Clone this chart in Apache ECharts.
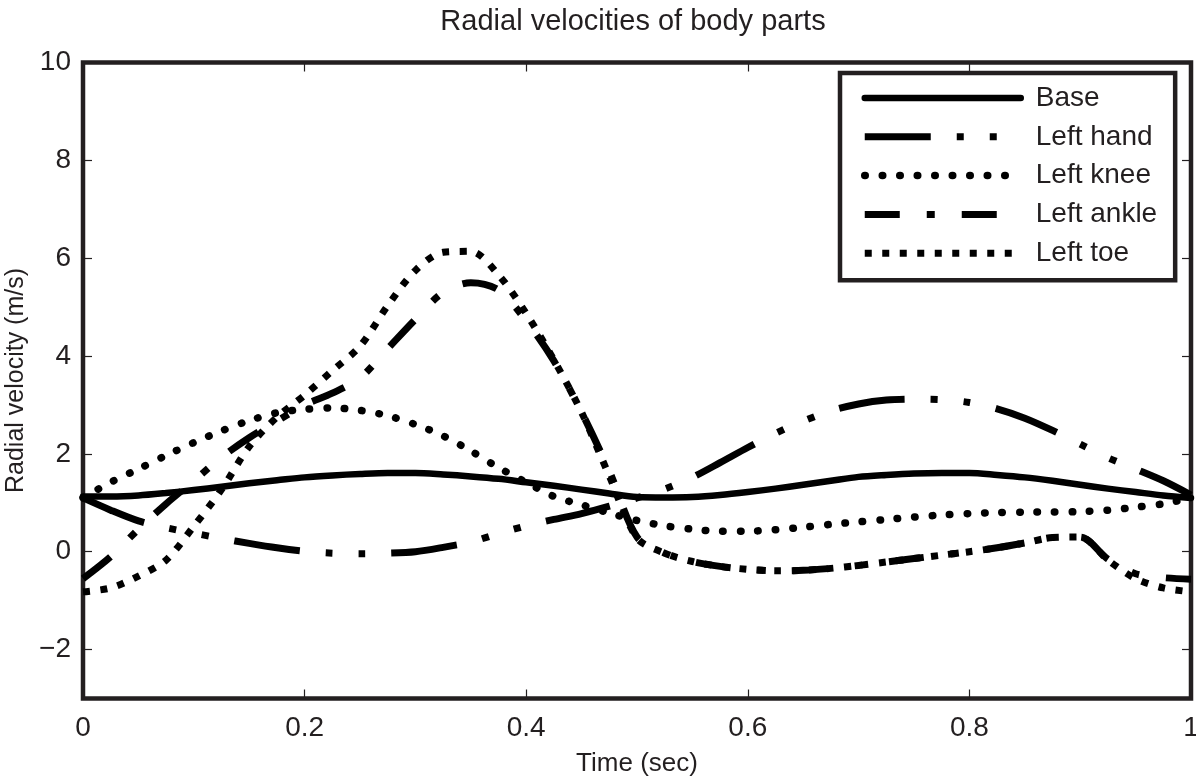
<!DOCTYPE html>
<html>
<head>
<meta charset="utf-8">
<script src="https://cdn.jsdelivr.net/npm/echarts@6/dist/echarts.min.js"></script>
<style>
  html, body { margin: 0; padding: 0; background: #fff; }
  #chart { width: 1196px; height: 782px; }
</style>
</head>
<body>
<div id="chart"></div>
<script>
// Sample times (s)
const time = [0, 0.025, 0.05, 0.075, 0.1, 0.125, 0.15, 0.175, 0.2, 0.225,
  0.25, 0.275, 0.3, 0.325, 0.35, 0.375, 0.4, 0.425, 0.45, 0.475,
  0.5, 0.525, 0.55, 0.575, 0.6, 0.625, 0.65, 0.675, 0.7, 0.725,
  0.75, 0.775, 0.8, 0.825, 0.85, 0.875, 0.9, 0.925, 0.95, 0.975, 1];

// Radial velocities (m/s) per body part
const base = [1.13, 1.13, 1.15, 1.2, 1.26, 1.33, 1.4, 1.46, 1.52, 1.56,
  1.59, 1.61, 1.61, 1.58, 1.54, 1.49, 1.42, 1.35, 1.27, 1.19,
  1.12, 1.11, 1.12, 1.16, 1.22, 1.29, 1.37, 1.45, 1.53, 1.57,
  1.6, 1.61, 1.61, 1.57, 1.52, 1.45, 1.37, 1.29, 1.22, 1.15, 1.1];
const leftHand = [1.1, 0.85, 0.63, 0.49, 0.38, 0.27, 0.17, 0.08, 0.01, -0.03,
  -0.04, -0.03, 0.0, 0.09, 0.2, 0.37, 0.53, 0.66, 0.78, 0.93,
  1.1, 1.28, 1.52, 1.82, 2.13, 2.42, 2.67, 2.88, 3.02, 3.1,
  3.12, 3.11, 3.05, 2.92, 2.73, 2.48, 2.2, 1.92, 1.69, 1.45, 1.16];
const leftKnee = [1.1, 1.42, 1.69, 1.97, 2.23, 2.47, 2.68, 2.84, 2.91, 2.94,
  2.89, 2.78, 2.6, 2.37, 2.06, 1.72, 1.42, 1.13, 0.96, 0.79,
  0.64, 0.53, 0.46, 0.42, 0.42, 0.45, 0.5, 0.56, 0.61, 0.66,
  0.71, 0.75, 0.78, 0.8, 0.81, 0.81, 0.82, 0.85, 0.91, 0.98, 1.1];
const leftAnkle = [-0.55, -0.1, 0.46, 0.98, 1.45, 1.93, 2.33, 2.67, 3.0, 3.24,
  3.55, 4.15, 4.75, 5.3, 5.5, 5.35, 4.72, 3.9, 2.85, 1.65,
  0.3, -0.03, -0.2, -0.3, -0.36, -0.39, -0.38, -0.34, -0.28, -0.21,
  -0.14, -0.07, 0.0, 0.08, 0.18, 0.29, 0.3, -0.15, -0.45, -0.53, -0.56];
const leftToe = [-0.82, -0.74, -0.5, -0.17, 0.52, 1.27, 2.15, 2.75, 3.2, 3.7,
  4.2, 5.03, 5.75, 6.12, 6.14, 5.66, 4.87, 3.92, 2.85, 1.55,
  0.28, -0.03, -0.2, -0.3, -0.36, -0.39, -0.38, -0.34, -0.28, -0.21,
  -0.14, -0.07, 0.0, 0.08, 0.18, 0.29, 0.3, -0.17, -0.55, -0.74, -0.82];

// Tick labels
const xTicks = [0, 0.2, 0.4, 0.6, 0.8, 1];
const yTicks = [-2, 0, 2, 4, 6, 8, 10];

const seriesNames = ['Base', 'Left hand', 'Left knee', 'Left ankle', 'Left toe'];
const seriesValues = [base, leftHand, leftKnee, leftAnkle, leftToe];

const FONT = '"Liberation Sans", Arial, sans-serif';
const INK = '#231f20';

// Stroke patterns: solid, dash-dot-dot, round dots, dash-dot, square dots
const strokes = [
  { type: 'solid', width: 6.5, cap: 'round' },
  { type: [66, 26, 7, 26, 7, 26], width: 7, cap: 'butt' },
  { type: [0.5, 17], width: 7.5, cap: 'round' },
  { type: [35, 27, 8, 27], width: 7, cap: 'butt' },
  { type: [7, 10.5], width: 7, cap: 'butt' }
];

const series = seriesNames.map((name, i) => ({
  name: name,
  type: 'line',
  data: time.map((t, k) => [t, seriesValues[i][k]]),
  smooth: 0.3,
  symbol: 'none',
  showSymbol: false,
  animation: false,
  itemStyle: { color: '#000' },
  lineStyle: Object.assign({ color: '#000', join: 'round' }, strokes[i])
}));

const tickStyle = { inside: true, length: 9, lineStyle: { color: INK, width: 1.2 } };
const labelStyle = { fontSize: 28, color: INK, fontFamily: FONT };
const hiddenLine = { show: false, onZero: false };

const chart = echarts.init(document.getElementById('chart'), null, { renderer: 'canvas' });
chart.setOption({
  animation: false,
  backgroundColor: '#fff',
  title: {
    text: 'Radial velocities of body parts',
    left: 633,
    top: 7,
    padding: 0,
    textAlign: 'center',
    textStyle: { fontSize: 29, fontWeight: 'normal', color: INK, fontFamily: FONT }
  },
  grid: {
    left: 83, top: 62.5, width: 1108, height: 636,
    show: true, borderColor: INK, borderWidth: 4.5, backgroundColor: 'transparent',
    containLabel: false, outerBoundsMode: 'none'
  },
  legend: {
    orient: 'vertical',
    left: 840, top: 73,
    padding: [10, 18, 12, 21],
    itemWidth: 156, itemHeight: 14, itemGap: 8.8,
    borderColor: INK, borderWidth: 4.5, backgroundColor: '#fff',
    selectedMode: false,
    itemStyle: { opacity: 0 },
    textStyle: { fontSize: 28, color: INK, fontFamily: FONT, lineHeight: 30, padding: [0, 0, 0, 10] },
    data: seriesNames.map((name, i) => ({
      name: name,
      itemStyle: { opacity: 0 },
      lineStyle: { color: '#000', width: strokes[i].width, type: strokes[i].type, cap: strokes[i].cap }
    }))
  },
  xAxis: [
    {
      type: 'value', min: 0, max: 1, position: 'bottom',
      axisLine: hiddenLine, splitLine: { show: false },
      axisTick: Object.assign({ customValues: xTicks }, tickStyle),
      axisLabel: Object.assign({ customValues: xTicks, margin: 16, formatter: v => String(v) }, labelStyle),
      name: 'Time (sec)', nameLocation: 'middle', nameGap: 52,
      nameTextStyle: { fontSize: 26, color: INK, fontFamily: FONT }
    },
    {
      type: 'value', min: 0, max: 1, position: 'top',
      axisLine: hiddenLine, splitLine: { show: false },
      axisTick: Object.assign({ customValues: xTicks }, tickStyle),
      axisLabel: { show: false }
    }
  ],
  yAxis: [
    {
      type: 'value', min: -3, max: 10, position: 'left',
      axisLine: hiddenLine, splitLine: { show: false },
      axisTick: Object.assign({ customValues: yTicks }, tickStyle),
      axisLabel: Object.assign({ customValues: yTicks, margin: 12,
        formatter: v => String(v).replace('-', '\u2212') }, labelStyle),
      name: 'Radial velocity (m/s)', nameLocation: 'middle', nameGap: 34,
      nameTextStyle: { fontSize: 25, color: INK, fontFamily: FONT }
    },
    {
      type: 'value', min: -3, max: 10, position: 'right',
      axisLine: hiddenLine, splitLine: { show: false },
      axisTick: Object.assign({ customValues: yTicks }, tickStyle),
      axisLabel: { show: false }
    }
  ],
  series: series
});
</script>
</body>
</html>
